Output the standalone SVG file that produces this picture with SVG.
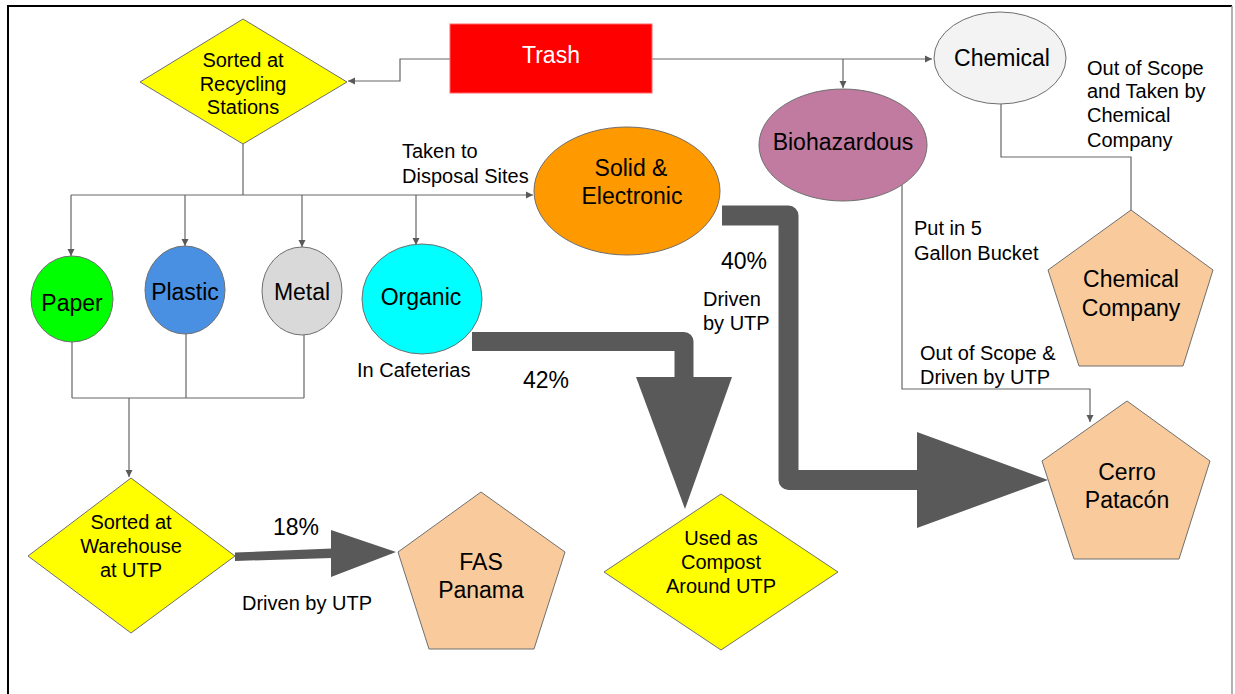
<svg xmlns="http://www.w3.org/2000/svg" width="1235" height="694" viewBox="0 0 1235 694">
<defs>
<marker id="ah" markerUnits="userSpaceOnUse" markerWidth="8" markerHeight="8" refX="7" refY="4" orient="auto">
<path d="M0,0.5 L7,4 L0,7.5 Z" fill="#595959"/>
</marker>
</defs>
<style>
text{font-family:"Liberation Sans",Arial,sans-serif;fill:#000;text-anchor:middle}
.b{font-size:23px}
.s{font-size:20px}
.l{font-size:16px;text-anchor:start}
.node{stroke:#6f6f6f;stroke-width:1}
.c{fill:none;stroke:#666;stroke-width:1.2}
.a{marker-end:url(#ah)}
.thick{fill:none;stroke:#595959;stroke-linejoin:round}
.head{fill:#595959}
</style>
<rect x="0" y="0" width="1235" height="694" fill="#fff"/>
<path d="M8,694 V6 H1232" fill="none" stroke="#000" stroke-width="2"/>
<path d="M1232,6 V694" fill="none" stroke="#999" stroke-width="1.5"/>

<g id="connectors">
<path class="c a" d="M450,59 H400 V81 H348"/>
<path class="c a" d="M652,59 H932"/>
<path class="c a" d="M843,59 V88"/>
<path class="c" d="M243,144 V195"/>
<path class="c a" d="M71,195 H533"/>
<path class="c a" d="M71,195 V256"/>
<path class="c a" d="M185,195 V246"/>
<path class="c a" d="M302,195 V247"/>
<path class="c a" d="M416,195 V245"/>
<path class="c" d="M72,342 V398 M186,334 V398 M304,335 V398 M72,398 H304"/>
<path class="c a" d="M129,398 V477"/>
<path class="c a" d="M902,185 V389 H1090 V422"/>
<path class="c" d="M1001,104 V157 H1131 V210"/>
<path class="thick" stroke-width="20" d="M722,215.5 H788.5 V480 H918"/>
<polygon class="head" points="917,432 1048,480 917,528"/>
<path class="thick" stroke-width="19" d="M472,341.5 H684 V378"/>
<polygon class="head" points="636,377 732,377 685,509"/>
<polygon class="head" points="235,552.5 332,548.5 332,558 235,561"/>
<polygon class="head" points="331,530 396,552 331,577"/>
</g>

<g id="trash">
<rect x="450" y="24" width="202" height="69" fill="#ff0000" stroke="#ff6666" stroke-width="1"/>
<text class="b" x="551" y="63" style="fill:#fff">Trash</text>
</g>

<g id="sorted-recycling">
<polygon class="node" points="243,19 347,82 243,144 140,82" fill="#ffff00"/>
<text class="s" x="243" y="67">Sorted at</text>
<text class="s" x="243" y="91">Recycling</text>
<text class="s" x="243" y="114">Stations</text>
</g>

<g id="chemical">
<ellipse class="node" cx="1000" cy="58" rx="66" ry="46" fill="#f3f3f3"/>
<text class="b" x="1002" y="66">Chemical</text>
</g>

<g id="biohazardous">
<ellipse class="node" cx="843" cy="145" rx="84" ry="56" fill="#c27ba0"/>
<text class="b" x="843" y="150">Biohazardous</text>
</g>

<g id="solid-electronic">
<ellipse class="node" cx="627" cy="191" rx="93" ry="64" fill="#ff9900"/>
<text class="b" x="631" y="176">Solid &amp;</text>
<text class="b" x="632" y="204">Electronic</text>
</g>

<g id="paper">
<ellipse class="node" cx="72" cy="299" rx="41" ry="43" fill="#00ff00"/>
<text class="b" x="72" y="311">Paper</text>
</g>

<g id="plastic">
<ellipse class="node" cx="185" cy="290" rx="40" ry="44" fill="#4a90e2"/>
<text class="b" x="185" y="300">Plastic</text>
</g>

<g id="metal">
<ellipse class="node" cx="302" cy="291" rx="40" ry="44" fill="#d9d9d9"/>
<text class="b" x="302" y="300">Metal</text>
</g>

<g id="organic">
<ellipse class="node" cx="422" cy="299" rx="60" ry="55" fill="#00ffff"/>
<text class="b" x="421" y="305">Organic</text>
</g>

<g id="warehouse">
<polygon class="node" points="131,478 235,556 131,633 28,556" fill="#ffff00"/>
<text class="s" x="131" y="529">Sorted at</text>
<text class="s" x="131" y="553">Warehouse</text>
<text class="s" x="131" y="577">at UTP</text>
</g>

<g id="fas-panama">
<polygon class="node" points="481,492 565,552 534,649 429,649 398,552" fill="#f9cb9c"/>
<text class="b" x="481" y="570">FAS</text>
<text class="b" x="481" y="598">Panama</text>
</g>

<g id="compost">
<polygon class="node" points="721,494 838,572 721,650 604,572" fill="#ffff00"/>
<text class="s" x="721" y="545">Used as</text>
<text class="s" x="721" y="569">Compost</text>
<text class="s" x="721" y="593">Around UTP</text>
</g>

<g id="chemical-company">
<polygon class="node" points="1131,210 1213,270 1183,366 1079,366 1048,270" fill="#f9cb9c"/>
<text class="b" x="1131" y="287">Chemical</text>
<text class="b" x="1131" y="316">Company</text>
</g>

<g id="cerro-patacon">
<polygon class="node" points="1127,401 1210,461 1179,559 1074,559 1042,461" fill="#f9cb9c"/>
<text class="b" x="1127" y="480">Cerro</text>
<text class="b" x="1127" y="508">Patacón</text>
</g>

<g id="labels">
<text class="s" x="402" y="158" style="text-anchor:start">Taken to</text>
<text class="s" x="402" y="183" style="text-anchor:start">Disposal Sites</text>
<text class="s" x="357" y="377" style="text-anchor:start">In Cafeterias</text>
<text class="b" x="546" y="388">42%</text>
<text class="b" x="744" y="269">40%</text>
<text class="s" x="703" y="306" style="text-anchor:start">Driven</text>
<text class="s" x="703" y="330" style="text-anchor:start">by UTP</text>
<text class="b" x="296" y="535">18%</text>
<text class="s" x="242" y="610" style="text-anchor:start">Driven by UTP</text>
<text class="s" x="914" y="235" style="text-anchor:start">Put in 5</text>
<text class="s" x="914" y="260" style="text-anchor:start">Gallon Bucket</text>
<text class="s" x="920" y="360" style="text-anchor:start">Out of Scope &amp;</text>
<text class="s" x="920" y="384" style="text-anchor:start">Driven by UTP</text>
<text class="s" x="1087" y="75" style="text-anchor:start">Out of Scope</text>
<text class="s" x="1087" y="98" style="text-anchor:start">and Taken by</text>
<text class="s" x="1087" y="122" style="text-anchor:start">Chemical</text>
<text class="s" x="1087" y="147" style="text-anchor:start">Company</text>
</g>
</svg>
